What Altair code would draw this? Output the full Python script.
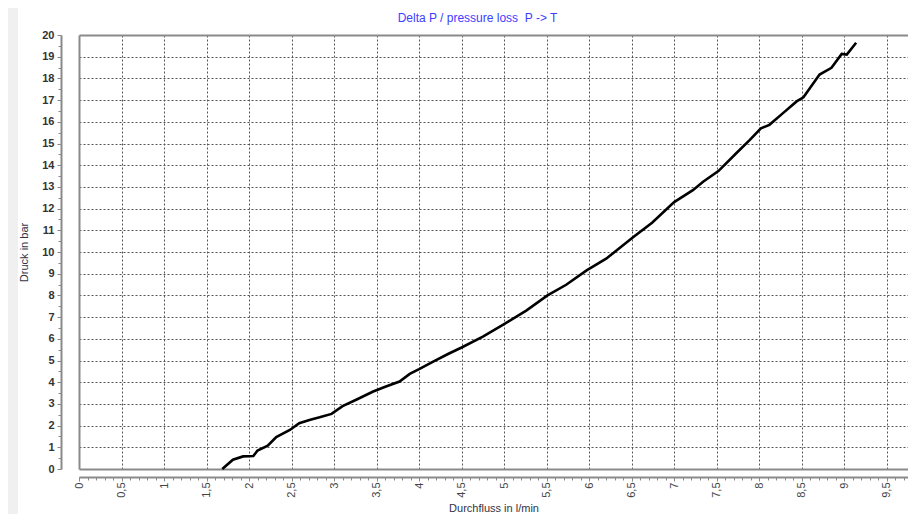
import altair as alt
import pandas as pd

# Flow (l/min) and pressure loss (bar)
flow = [1.685, 1.81, 1.93, 2.05, 2.10, 2.22, 2.32, 2.48, 2.59, 2.71,
        2.83, 2.97, 3.10, 3.26, 3.46, 3.61, 3.77, 3.89, 4.0, 4.16,
        4.34, 4.50, 4.75, 5.0, 5.26, 5.51, 5.73, 5.97, 6.2, 6.52,
        6.74, 7.0, 7.22, 7.34, 7.52, 7.73, 7.89, 8.02, 8.12, 8.28,
        8.44, 8.52, 8.71, 8.85, 8.97, 9.03, 9.14]
pressure = [0, 0.43, 0.58, 0.6, 0.85, 1.07, 1.47, 1.8, 2.11, 2.26,
            2.38, 2.54, 2.9, 3.19, 3.57, 3.8, 4.03, 4.38, 4.6, 4.94,
            5.3, 5.6, 6.1, 6.68, 7.3, 8.0, 8.49, 9.15, 9.69, 10.69,
            11.35, 12.3, 12.85, 13.24, 13.73, 14.55, 15.17, 15.7, 15.86, 16.4,
            16.94, 17.13, 18.18, 18.49, 19.13, 19.1, 19.64]

x_major = [i * 0.5 for i in range(0, 20)]          # 0 .. 9.5
x_minor = [round(i * 0.1, 1) for i in range(0, 98)]
x_grid = [i * 0.5 for i in range(1, 20)]
y_major = list(range(0, 21))
y_minor = [i * 0.5 for i in range(0, 41)]
y_grid = list(range(1, 20))

TITLE = "Delta P / pressure loss \u00a0P -> T"
X_TITLE = "Durchfluss in l/min"
Y_TITLE = "Druck in bar"

df = pd.DataFrame({"flow": flow, "pressure": pressure})

FONT = "Liberation Sans"
FRAME = "#8a8a8a"
X_MAX = 9.75

xs = alt.Scale(domain=[0, X_MAX], nice=False, zero=False)
ys = alt.Scale(domain=[0, 20], nice=False)


def xenc(axis):
    return alt.X("flow:Q", scale=xs, axis=axis)


def yenc(axis):
    return alt.Y("pressure:Q", scale=ys, axis=axis)


base = alt.Chart(df)

strip = alt.Chart(pd.DataFrame({"a": [0]})).mark_rect(color="#f0f0f0", clip=False).encode(
    x=alt.value(-72), x2=alt.value(-61), y=alt.value(-27), y2=alt.value(480)
)

grid_layer = base.mark_line(opacity=0).encode(
    x=xenc(alt.Axis(values=x_grid, grid=True, gridDash=[2, 2], gridColor="#555",
                    gridWidth=1, labels=False, ticks=False, domain=False, title=None)),
    y=yenc(alt.Axis(values=y_grid, grid=True, gridDash=[2, 2], gridColor="#555",
                    gridWidth=1, labels=False, ticks=False, domain=False, title=None)),
)

frame_a = base.mark_line(opacity=0).encode(
    x=xenc(alt.Axis(orient="top", labels=False, ticks=False, grid=False, title=None,
                    domainColor=FRAME, domainWidth=2)),
    y=yenc(alt.Axis(orient="left", labels=False, ticks=False, grid=False, title=None,
                    domainColor=FRAME, domainWidth=2)),
)

frame_b = base.mark_line(opacity=0).encode(
    x=xenc(alt.Axis(orient="bottom", labels=False, ticks=False, grid=False, title=None,
                    domainColor=FRAME, domainWidth=2)),
    y=yenc(alt.Axis(orient="left", offset=18, values=y_minor, labels=False, ticks=True,
                    tickSize=3, tickColor=FRAME, grid=False, title=None, domain=False)),
)

minor_x = base.mark_line(opacity=0).encode(
    x=xenc(alt.Axis(orient="bottom", offset=8, values=x_minor, labels=False, ticks=True,
                    tickSize=3, tickColor=FRAME, grid=False, title=None, domain=False)),
    y=yenc(None),
)

main = base.mark_line(color="black", strokeWidth=2.6).encode(
    x=xenc(alt.Axis(orient="bottom", offset=8, values=x_major, grid=False,
                    labelExpr="replace(format(datum.value, '.1~f'), '.', ',')",
                    labelAngle=270, labelOverlap=False, labelPadding=1,
                    labelFontSize=11, labelColor="#444", tickSize=4, tickColor=FRAME,
                    domainColor=FRAME, domainWidth=2, title=X_TITLE,
                    titleFontSize=11, titleFontWeight="normal", titleColor="#334",
                    titlePadding=5)),
    y=yenc(alt.Axis(orient="left", offset=18, values=y_major, grid=False,
                    labelFontSize=11, labelColor="#333", labelFontWeight="bold",
                    labelPadding=3, tickSize=4, tickColor=FRAME,
                    domainColor=FRAME, domainWidth=2, title=Y_TITLE,
                    titleFontSize=11, titleFontWeight="normal", titleColor="#334",
                    titlePadding=12)),
)

chart = alt.layer(strip, grid_layer, frame_a, frame_b, minor_x, main).resolve_axis(
    x="independent", y="independent"
).properties(
    width=829,
    height=434,
    autosize=alt.AutoSizeParams(type="none"),
    padding={"left": 71, "top": 27, "right": 0, "bottom": 45},
    background="white",
    title=alt.TitleParams(TITLE, color="#4040ff", fontSize=12, font=FONT,
                          fontWeight="normal", offset=0, dy=17, dx=-16),
).configure_view(stroke=None).configure_axis(labelFont=FONT, titleFont=FONT)

chart.save("out.html", embed_options={"renderer": "svg", "actions": False})
